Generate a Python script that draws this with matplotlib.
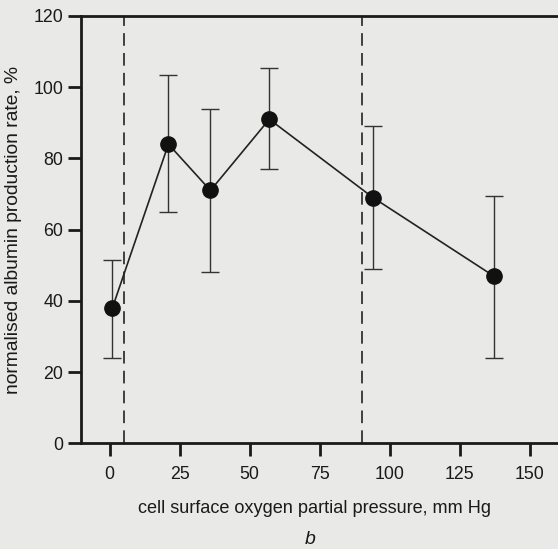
import matplotlib
matplotlib.use("Agg")
import matplotlib.pyplot as plt

# data
pressure = [1, 21, 36, 57, 94, 137]
albumin = [38, 84, 71, 91, 69, 47]
err_low = [24, 65, 48, 77, 49, 24]
err_high = [51.5, 103.5, 94, 105.5, 89, 69.5]
boundaries = [5, 90]
xticks = [0, 25, 50, 75, 100, 125, 150]
yticks = [0, 20, 40, 60, 80, 100, 120]

bg = "#e9e9e7"
ink = "#1a1a1a"
plt.rcParams["font.family"] = ["Liberation Sans", "DejaVu Sans"]

fig = plt.figure(figsize=(5.58, 5.49), dpi=100, facecolor=bg)
ax = fig.add_axes([0.1446, 0.1925, 1.0 - 0.1446, 0.9709 - 0.1925])
ax.set_facecolor(bg)

yerr = [[a - l for a, l in zip(albumin, err_low)],
        [h - a for a, h in zip(albumin, err_high)]]
ax.errorbar(pressure, albumin, yerr=yerr, fmt="none", ecolor="#333333",
            elinewidth=1.0, capsize=6.5, capthick=1.0, zorder=2)
ax.plot(pressure, albumin, "-", color="#222222", lw=1.2, zorder=3)
ax.plot(pressure, albumin, "o", color="#111111", ms=11, zorder=4)

for b in boundaries:
    ax.axvline(b, color="#333333", lw=1.3, ls=(0, (7, 4)), zorder=1)

ax.set_xlim(-10.3, 160)
ax.set_ylim(0, 120)
ax.set_xticks(xticks)
ax.set_yticks(yticks)
ax.tick_params(direction="out", length=9.5, width=2, colors=ink,
               labelsize=12.8)
ax.tick_params(axis="x", pad=7)
ax.tick_params(axis="y", pad=3)
for s in ["left", "bottom", "top"]:
    ax.spines[s].set_linewidth(2)
    ax.spines[s].set_color(ink)
ax.spines["right"].set_visible(False)

ax.set_xlabel("cell surface oxygen partial pressure, mm Hg", fontsize=13.1,
              color=ink)
ax.xaxis.set_label_coords((314.5 - 80.7) / (558 - 80.7), -0.133)
ax.set_ylabel("normalised albumin production rate, %", fontsize=13.9,
              color=ink, labelpad=8)
fig.text(310 / 558, 1 - 540 / 549, "b", fontsize=14, style="italic",
         color=ink, ha="center", va="center")

fig.savefig("out.png", dpi=100, facecolor=bg)
